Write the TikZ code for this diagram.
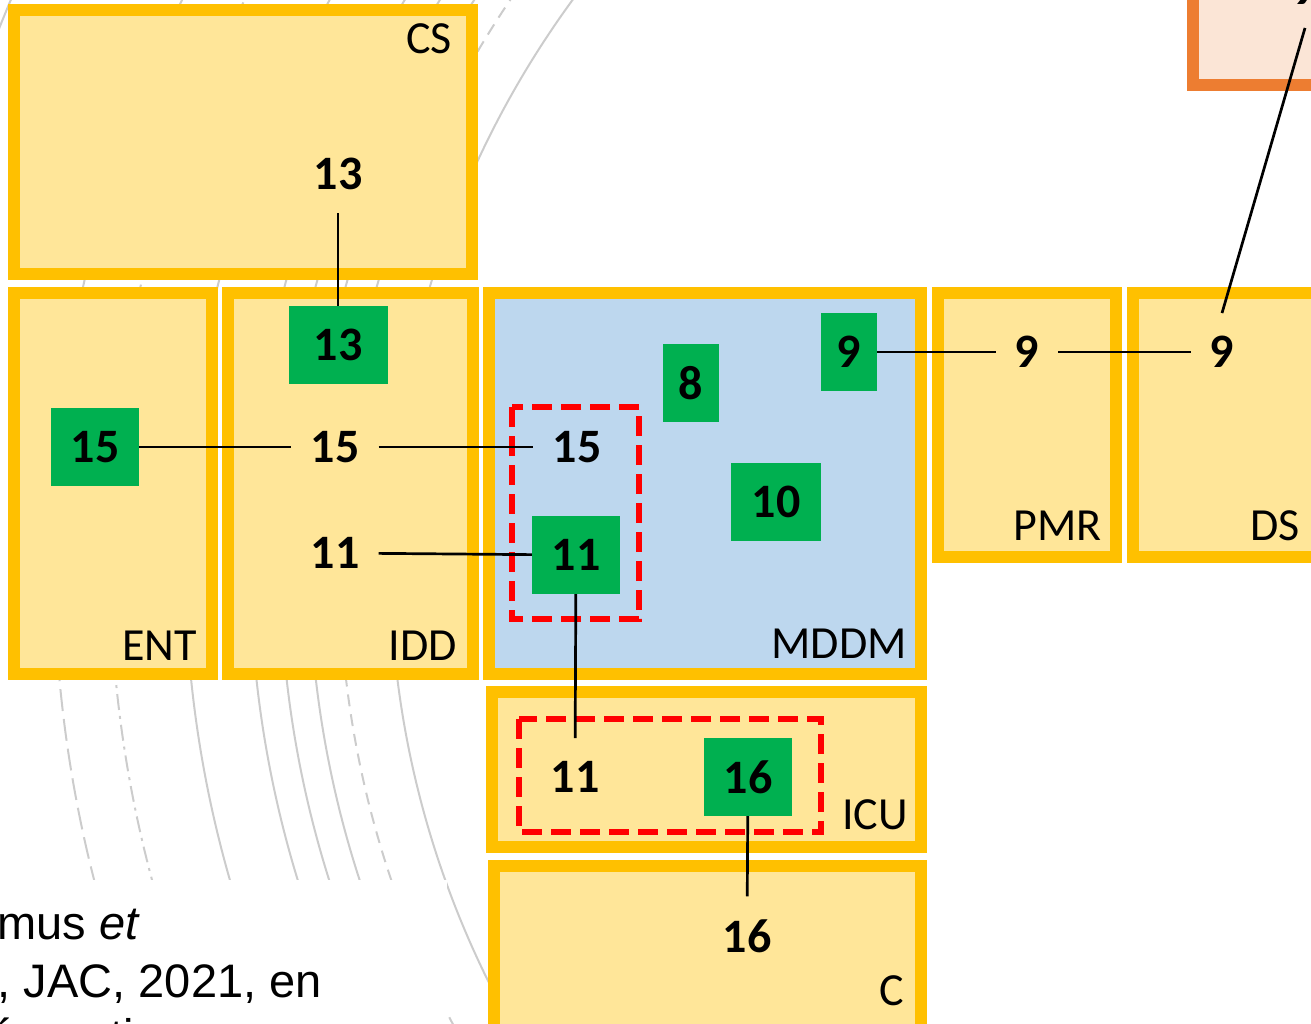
\documentclass[tikz,border=0pt]{standalone}
\usepackage{fontspec}
\setmainfont{Carlito}
\newfontfamily\reffont{Liberation Sans}
\usepackage{tikz}
\definecolor{boxline}{HTML}{FFC000}
\definecolor{boxfill}{HTML}{FFE699}
\definecolor{mddmfill}{HTML}{BDD7EE}
\definecolor{grn}{HTML}{00B050}
\definecolor{orline}{HTML}{ED7D31}
\definecolor{orfill}{HTML}{FBE5D6}
\definecolor{arcgray}{HTML}{CCCCCC}
\newcommand{\digitfont}{\bfseries\fontsize{48pt}{56pt}\selectfont}
\newcommand{\unitfont}{\fontsize{46pt}{54pt}\selectfont}
\tikzset{
  unitbox/.style={draw=boxline, fill=boxfill, line width=12pt},
  gbox/.style={fill=grn, font=\digitfont, minimum width=88pt, minimum height=78pt, inner sep=0pt},
  numtxt/.style={font=\digitfont, inner xsep=19pt, inner ysep=23pt},
  lbl/.style={font=\unitfont, inner sep=0pt, anchor=base east},
  reftxt/.style={font=\reffont\fontsize{47pt}{58pt}\selectfont, inner sep=0pt, anchor=base west},
  conn/.style={line width=2.7pt},
  redbox/.style={draw=red, line width=6pt, dash pattern=on 20pt off 9pt},
  bgarc/.style={draw=arcgray, line width=2pt}
}

\begin{document}
\begin{tikzpicture}[x=1pt,y=-1pt]
  \useasboundingbox (0,0) rectangle (1311,1023);
  \clip (0,0) rectangle (1311,1023);

  % faint background arcs
  \draw[bgarc] (1340,560) circle (1442pt);
  \draw[bgarc, dash pattern=on 22pt off 8pt] (1340,560) circle (1286pt);
  \draw[bgarc, dash pattern=on 16pt off 6pt on 3pt off 6pt] (1340,560) circle (1230pt);
  \draw[bgarc] (1340,560) circle (1155pt);
  \draw[bgarc] (1340,560) circle (1090pt);
  \draw[bgarc] (1340,560) circle (1060pt);
  \draw[bgarc] (1340,560) circle (1031pt);
  \draw[bgarc, dash pattern=on 12pt off 8pt] (1340,560) circle (1001pt);
  \draw[bgarc] (1340,560) circle (950pt);

  % reference text
  \fill[white] (-10,880) rectangle (447,1030);
  \node[reftxt] (ref1) at (-63,939) {Camus \textit{et}};
  \node[reftxt] (ref2) at (-52,997) {\textit{al.}, JAC, 2021, en};
  \node[reftxt] (ref3) at (-52,1052) {préparation};

  % CS
  \draw[unitbox] (14,10) rectangle (472,274);
  \node[lbl] (lcs) at (452,53) {CS};
  \node[numtxt] (cs13) at (338,174) {13};

  % ENT and IDD
  \draw[unitbox] (14,293) rectangle (212,674);
  \node[lbl] (lent) at (197,660) {ENT};
  \node[gbox] (g15) at (95,447) {15};
  \draw[unitbox] (228,293) rectangle (473,674);
  \node[lbl] (lidd) at (457,660) {IDD};
  \node[gbox, minimum width=99pt] (g13) at (338,345) {13};
  \node[numtxt] (idd15) at (335,447) {15};
  \node[numtxt] (idd11) at (335,553) {11};

  % MDDM
  \draw[unitbox, fill=mddmfill] (489,293) rectangle (921,674);
  \node[lbl] (lmddm) at (907,658) {MDDM};
  \draw[redbox] (512,407) rectangle (639,619);
  \node[numtxt] (m15) at (577,447) {15};
  \node[gbox] (g11) at (576,555) {11};
  \node[gbox, minimum width=56pt] (g8) at (691,383) {8};
  \node[gbox, minimum width=56pt] (g9) at (849,352) {9};
  \node[gbox, minimum width=90pt] (g10) at (776,502) {10};

  % PMR and DS
  \draw[unitbox] (938,293) rectangle (1116,557);
  \node[lbl] (lpmr) at (1102,540) {PMR};
  \node[numtxt] (pmr9) at (1027,352) {9};
  \draw[unitbox] (1133,293) rectangle (1330,557);
  \node[lbl] (lds) at (1300,540) {DS};
  \node[numtxt] (ds9) at (1222,352) {9};

  \draw[line width=12pt, draw=orline, fill=orfill] (1193,-30) rectangle (1330,85);
  \node[numtxt] (or9) at (1305,-11) {9};

  % ICU and C
  \draw[unitbox] (492,692) rectangle (921,847);
  \node[lbl] (licu) at (908,829) {ICU};
  \draw[redbox] (519,719) rectangle (821,832);
  \node[numtxt] (icu11) at (575,777) {11};
  \node[gbox] (g16) at (748,777) {16};
  \draw[unitbox] (494,866) rectangle (921,1040);
  \node[lbl] (lc) at (904,1005) {C};
  \node[numtxt] (c16) at (747,936) {16};

  \draw[conn] (cs13) -- (g13);
  \draw[conn] (g15) -- (idd15);
  \draw[conn] (idd15) -- (m15);
  \draw[conn] (idd11) -- (g11);
  \draw[conn] (g11) -- (icu11);
  \draw[conn] (g16) -- (c16);
  \draw[conn] (g9) -- (pmr9);
  \draw[conn] (pmr9) -- (ds9);
  \draw[conn] (ds9.north) -- (or9.south);
\end{tikzpicture}
\end{document}
